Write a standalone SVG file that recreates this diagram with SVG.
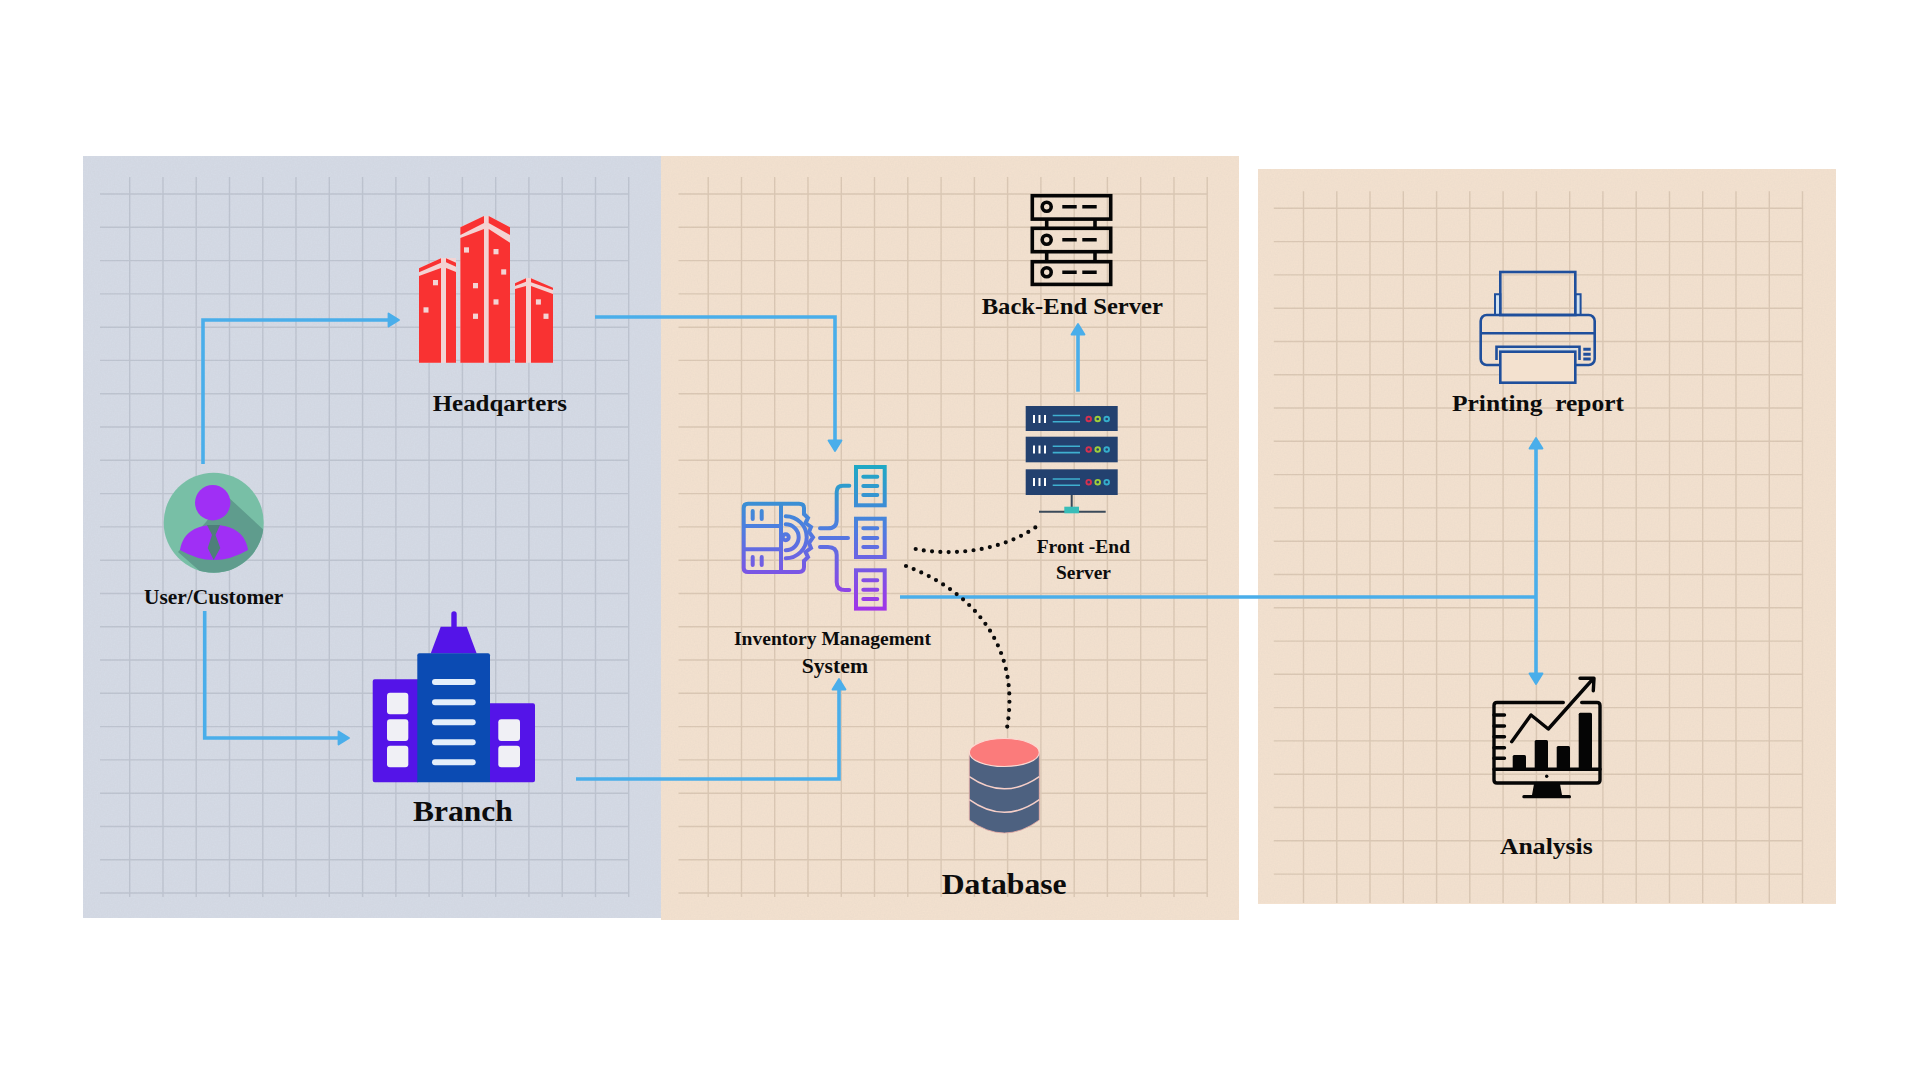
<svg xmlns="http://www.w3.org/2000/svg" width="1920" height="1080" viewBox="0 0 1920 1080">
<style>
text{font-family:"Liberation Serif","Times New Roman",serif;font-weight:700;fill:#0c0c0c;white-space:pre}
.grid{fill:none;stroke-width:1.4}
.gb{stroke:#66707e;stroke-opacity:.2}
.gp{stroke:#7d644a;stroke-opacity:.2}
.flow{fill:none;stroke:#4aaeea;stroke-width:3.6;marker-end:url(#tip)}
.dots{fill:none;stroke:#0a0a0a;stroke-width:4.2;stroke-linecap:round;stroke-dasharray:0 8.3}
.ims{fill:none;stroke:url(#imsg);stroke-width:4;stroke-linecap:round}
.be{fill:none;stroke:#050505;stroke-width:3.6}
.pr{fill:none;stroke:#1f4f9c;stroke-width:2.6}
.an{fill:none;stroke:#050505;stroke-width:3.4;stroke-linecap:round;stroke-linejoin:round}
.fe{fill:#23416f}
.fl{stroke:#3fb0d0;stroke-width:1.6;fill:none}
.hq{fill:#f93232}
.hqp{fill:#f3d3d3}
</style>
<defs>
<marker id="tip" markerUnits="userSpaceOnUse" markerWidth="18" markerHeight="20" refX="10" refY="9" orient="auto">
<path d="M1.500 2.500L12 9L1.500 15.500Z" fill="#4aaeea" stroke="#4aaeea" stroke-width="1.800" stroke-linejoin="round"/>
</marker>
<linearGradient id="imsg" gradientUnits="userSpaceOnUse" x1="0" y1="465" x2="0" y2="611">
<stop offset="0" stop-color="#1fa9c4"/><stop offset=".45" stop-color="#4f7ce0"/><stop offset="1" stop-color="#a232e8"/>
</linearGradient>
<filter id="paper" x="0" y="0" width="100%" height="100%">
<feTurbulence type="fractalNoise" baseFrequency=".7" numOctaves="2" seed="4" result="n"/>
<feColorMatrix in="n" type="matrix" values="0 0 0 0 .45  0 0 0 0 .42  0 0 0 0 .4  0 0 0 .14 -.03" result="m"/>
<feComposite in="m" in2="SourceGraphic" operator="in" result="c"/>
<feMerge><feMergeNode in="SourceGraphic"/><feMergeNode in="c"/></feMerge>
</filter>
<clipPath id="userclip"><circle cx="213.700" cy="522.700" r="50"/></clipPath>
<clipPath id="p3clip"><rect x="1258" y="169" width="578" height="735"/></clipPath>
<path id="grid" d="M100 194H629M100 227.300H629M100 260.600H629M100 293.900H629M100 327.200H629M100 360.400H629M100 393.700H629M100 427H629M100 460.300H629M100 493.600H629M100 526.900H629M100 560.200H629M100 593.500H629M100 626.800H629M100 660H629M100 693.300H629M100 726.600H629M100 759.900H629M100 793.200H629M100 826.500H629M100 859.800H629M100 893H629M129.700 177V897M163 177V897M196.200 177V897M229.500 177V897M262.800 177V897M296 177V897M329.300 177V897M362.600 177V897M395.900 177V897M429.100 177V897M462.400 177V897M495.700 177V897M528.900 177V897M562.200 177V897M595.500 177V897M628.700 177V897"/>
</defs>
<rect width="1920" height="1080" fill="#ffffff"/>

<g id="panels">
<rect x="83" y="156" width="578" height="762" fill="#d4dae5" filter="url(#paper)"/>
<rect x="661" y="156" width="578" height="764" fill="#f3e1cf" filter="url(#paper)"/>
<rect x="1258" y="169" width="578" height="735" fill="#f3e1cf" filter="url(#paper)"/>
<use href="#grid" class="grid gb"/>
<use href="#grid" class="grid gp" x="578.500"/>
<g clip-path="url(#p3clip)"><use href="#grid" class="grid gp" x="1173.800" y="14.300"/><rect x="1258" y="903" width="578" height="1" fill="#f3e1cf"/></g>
</g>

<g id="connectors">
<path class="flow" d="M203 464V320H397"/>
<path class="flow" d="M595 317H835V449"/>
<path class="flow" d="M204.700 611V738H347"/>
<path class="flow" d="M576 779H839V681"/>
<path class="flow" d="M1078 391.700V326"/>
<path fill="none" stroke="#4aaeea" stroke-width="3.600" d="M900 597H1536"/>
<path class="flow" d="M1536 597V440"/>
<path class="flow" d="M1536 597V682"/>
<path class="dots" d="M915.700 549C950 556 1000 552 1036 527"/>
<path class="dots" d="M906 566C965 588 1022 640 1007 728"/>
</g>

<g id="headquarters">
<path class="hqp" d="M419 268L441 258V362.700H419ZM441 258H456V362.700H441ZM460.400 227L484 216H488.700L510 227V362.700H460.400ZM515 283L526 278H531L553 288V362.700H515Z"/>
<path class="hq" d="M419 276L441 268V362.700H419ZM446 268L456 272V362.700H446ZM460.400 238L484 229V362.700H460.400ZM488.700 229L510 242.700V362.700H488.700ZM515 289L526 286V362.700H515ZM531 286L553 294V362.700H531Z"/>
<path class="hq" d="M419 268.300L441 258.300V262.700L419 272.300ZM446 258.300L456 262.700V266.700L446 262.300ZM460.400 227.300L484 216V223L460.400 235ZM488.700 216L510 227.300V235L488.700 223ZM515 283.300L526 278.300V281.700L515 286ZM531 278.300L553 287.700V290L531 282.300Z"/>
<g class="hqp">
<rect x="433" y="280" width="5" height="5.300"/><rect x="423.500" y="307.300" width="5" height="5.300"/><rect x="464" y="247.300" width="5" height="5.300"/><rect x="493.500" y="249" width="5" height="5.300"/><rect x="501.200" y="269.300" width="5" height="5.300"/><rect x="473" y="283" width="5" height="5.300"/><rect x="493.500" y="299.300" width="5" height="5.300"/><rect x="473" y="313.600" width="5" height="5.300"/><rect x="535.900" y="299.300" width="5" height="5.300"/><rect x="543.500" y="313.600" width="5" height="5.300"/>
</g>
<text x="432.700" y="411" font-size="23.500" textLength="134.300" lengthAdjust="spacingAndGlyphs">Headqarters</text>
</g>

<g id="user-customer">
<circle cx="213.700" cy="522.700" r="50" fill="#78bfa6"/>
<path clip-path="url(#userclip)" fill="#5f9c8d" d="M226 495L266 532V580H210L178 552L206 522Z"/>
<circle cx="212.700" cy="502.700" r="17.700" fill="#a02ff5"/>
<path d="M180 550C183 531 198 525 214 525C230 525 245 531 248 550Q214 570 180 550Z" fill="#a02ff5"/>
<path d="M207 525H220L215.500 535L220.300 548L213.700 560L207.700 548L212 535Z" fill="#4e7f7a"/>
<text x="144" y="604.300" font-size="21" textLength="139.300" lengthAdjust="spacingAndGlyphs">User/Customer</text>
</g>

<g id="branch">
<rect x="451.300" y="611.300" width="5.400" height="18" rx="2.700" fill="#5414e8"/>
<path d="M430.700 653.500L440.700 626.700H466.700L476.700 653.500Z" fill="#5414e8"/>
<path d="M374.700 679.300H418V782.300H374.700Q372.700 782.300 372.700 780.300V681.300Q372.700 679.300 374.700 679.300ZM490 703.300H533Q535 703.300 535 705.300V780.300Q535 782.300 533 782.300H490Z" fill="#5414e8"/>
<path d="M419.300 653.300H488Q490 653.300 490 655.300V782.300H417.300V655.300Q417.300 653.300 419.300 653.300Z" fill="#0b4bb3"/>
<g fill="#e4eefa">
<rect x="432" y="679" width="43.700" height="6" rx="3"/><rect x="432" y="699.300" width="43.700" height="6" rx="3"/><rect x="432" y="719.300" width="43.700" height="6" rx="3"/><rect x="432" y="739.300" width="43.700" height="6" rx="3"/><rect x="432" y="759.300" width="43.700" height="6" rx="3"/>
</g>
<g fill="#f0f0f5">
<rect x="387" y="692.700" width="21.300" height="21.600" rx="3"/><rect x="387" y="719.300" width="21.300" height="21.700" rx="3"/><rect x="387" y="745.700" width="21.300" height="21.600" rx="3"/><rect x="498.300" y="719.300" width="21.700" height="21.700" rx="3"/><rect x="498.300" y="745.700" width="21.700" height="21.600" rx="3"/>
</g>
<text x="413" y="820.700" font-size="30" textLength="99.700" lengthAdjust="spacingAndGlyphs">Branch</text>
</g>

<g id="inventory-management-system">
<g class="ims">
<rect x="856" y="467" width="28.700" height="38.300"/><rect x="856" y="518.700" width="28.700" height="38.300"/><rect x="856" y="570.300" width="28.700" height="38.300"/>
<path d="M863.300 476.700H877.300M863.300 486H877.300M863.300 495H877.300M863.300 528.300H877.300M863.300 538H877.300M863.300 547H877.300M863.300 580.300H877.300M863.300 589.700H877.300M863.300 599H877.300"/>
<path d="M849.300 485.700H843Q836.700 485.700 836.700 492V520Q836.700 528.300 828 528.300H820M820 538H848M820 547H828Q836.700 547 836.700 555V582Q836.700 590 845 590H849.300"/>
<path d="M781 503.700H748Q743.700 503.700 743.700 508V568Q743.700 572 748 572H781V503.700H799Q804 503.700 804 508V514M804 561V567Q804 572 799 572H781M743.700 526H781M743.700 549.300H781"/>
<path d="M804 514L808 518L805.500 523L811 527L809 532L813 537.300L809 543L811 548L805.500 552L808 557L804 561"/>
<path d="M785.700 516.300A21 21 0 0 1 785.700 558.300M785.700 524.300A13 13 0 0 1 785.700 550.300"/>
<path d="M752.700 511V519M761.700 511V519M752.700 557V565M761.700 557V565"/>
<circle cx="785.700" cy="537.300" r="3"/>
</g>
<text x="734" y="645" font-size="19" textLength="197" lengthAdjust="spacingAndGlyphs">Inventory Management</text>
<text x="801.700" y="673" font-size="20" textLength="66.300" lengthAdjust="spacingAndGlyphs">System</text>
</g>

<g id="back-end-server">
<g class="be">
<rect x="1032.300" y="195.700" width="78.400" height="23.400"/><rect x="1032.300" y="228.300" width="78.400" height="23.400"/><rect x="1032.300" y="261.700" width="78.400" height="22.700"/>
<path d="M1046.700 219V228M1095 219V228M1046.700 252V261M1095 252V261"/>
<circle cx="1046.700" cy="206.700" r="4.500"/><circle cx="1046.700" cy="239.700" r="4.500"/><circle cx="1046.700" cy="272.300" r="4.500"/>
<path d="M1062.300 206.700H1076.700M1082.300 206.700H1096.700M1062.300 239.700H1076.700M1082.300 239.700H1096.700M1062.300 272.300H1076.700M1082.300 272.300H1096.700"/>
</g>
<text x="981.700" y="314" font-size="23" textLength="181.300" lengthAdjust="spacingAndGlyphs">Back-End Server</text>
</g>

<g id="front-end-server">
<rect class="fe" x="1025.700" y="406" width="92" height="25"/><rect class="fe" x="1025.700" y="436.700" width="92" height="25.600"/><rect class="fe" x="1025.700" y="469.300" width="92" height="25.700"/>
<path d="M1034 415V423M1039.500 415V423M1045 415V423M1034 445.500V453.500M1039.500 445.500V453.500M1045 445.500V453.500M1034 478V486M1039.500 478V486M1045 478V486" stroke="#ffffff" stroke-width="2" fill="none"/>
<path class="fl" d="M1052.700 415.500H1080M1052.700 421.800H1080M1052.700 446.300H1080M1052.700 452.600H1080M1052.700 479H1080M1052.700 485.300H1080"/>
<g fill="none" stroke-width="1.900">
<g stroke="#d6304f"><circle cx="1088.700" cy="419" r="2.300"/><circle cx="1088.700" cy="449.500" r="2.300"/><circle cx="1088.700" cy="482.200" r="2.300"/></g>
<g stroke="#9fcf3a"><circle cx="1097.700" cy="419" r="2.300"/><circle cx="1097.700" cy="449.500" r="2.300"/><circle cx="1097.700" cy="482.200" r="2.300"/></g>
<g stroke="#35aecc"><circle cx="1106.700" cy="419" r="2.300"/><circle cx="1106.700" cy="449.500" r="2.300"/><circle cx="1106.700" cy="482.200" r="2.300"/></g>
</g>
<path d="M1071.700 495V508M1039 511.700H1105.700" stroke="#3a4a5a" stroke-width="2" fill="none"/>
<rect x="1064.300" y="506.700" width="14.700" height="6.600" fill="#38bdb8"/>
<text x="1036.700" y="553.300" font-size="19" textLength="93.300" lengthAdjust="spacingAndGlyphs">Front -End</text>
<text x="1056" y="579.300" font-size="19" textLength="55" lengthAdjust="spacingAndGlyphs">Server</text>
</g>

<g id="database">
<path d="M969.300 752.500H1039.300V820Q1004.300 846 969.300 820Z" fill="#4d6180" stroke="#e8a9a4" stroke-width=".8"/>
<path d="M969.300 776.700Q1004.300 801 1039.300 776.700M969.300 799.700Q1004.300 825 1039.300 799.700" fill="none" stroke="#f6cfc8" stroke-width="1.500"/>
<ellipse cx="1004.300" cy="752.500" rx="35" ry="14" fill="#fb7b7b" stroke="#fbd9d2" stroke-width="1.200"/>
<text x="941.700" y="894" font-size="29" textLength="125" lengthAdjust="spacingAndGlyphs">Database</text>
</g>

<g id="printing-report">
<path d="M1495 294.300H1500.300V315H1495ZM1575.300 294.300H1580.600V315H1575.300Z" fill="#d4e3ef" stroke="#1f4f9c" stroke-width="2"/>
<rect class="pr" x="1500.300" y="272" width="75" height="43"/>
<rect class="pr" x="1480.700" y="315" width="114" height="50" rx="6"/>
<path class="pr" d="M1481 333.300H1594"/>
<path class="pr" d="M1496.500 360V346.700H1579.500V360"/>
<path d="M1498.500 349.700H1577.500" stroke="#cfe0ee" stroke-width="2.200" fill="none"/>
<rect x="1500.300" y="351.700" width="75" height="31" fill="#f3e1cf" stroke="#1f4f9c" stroke-width="2.600"/>
<path d="M1583.300 349.300H1590.700M1583.300 354.300H1590.700M1583.300 359H1590.700" stroke="#1f4f9c" stroke-width="3" fill="none"/>
<text x="1452" y="411" font-size="23" textLength="172" lengthAdjust="spacingAndGlyphs">Printing  report</text>
</g>

<g id="analysis">
<path class="an" d="M1563.300 702.500H1497Q1494 702.500 1494 705.500V780Q1494 783 1497 783H1597Q1600 783 1600 780V705.500Q1600 702.500 1597 702.500H1581.700"/>
<path class="an" d="M1494 769.300H1600M1494 715H1504.500M1494 726H1504.500M1494 736.700H1504.500M1494 747.700H1504.500M1494 758.300H1504.500"/>
<path class="an" d="M1511.700 741.700L1531 715L1548.300 729L1592 680M1580 678.300H1594L1593.300 690.700"/>
<g fill="#050505">
<rect x="1512.700" y="755" width="13.300" height="14.300" rx="1.500"/><rect x="1534.700" y="740" width="13.300" height="29.300" rx="1.500"/><rect x="1556.700" y="746" width="13.300" height="23.300" rx="1.500"/><rect x="1578.700" y="712.700" width="13.300" height="56.600" rx="1.500"/>
<circle cx="1546.700" cy="776.300" r="1.700"/>
<path d="M1534 784H1560L1562 795H1569.500Q1571 795 1571 796.700T1569.500 798.300H1523.800Q1522.300 798.300 1522.300 796.700T1523.800 795H1532Z"/>
</g>
<text x="1500" y="854" font-size="23" textLength="92.700" lengthAdjust="spacingAndGlyphs">Analysis</text>
</g>
</svg>
